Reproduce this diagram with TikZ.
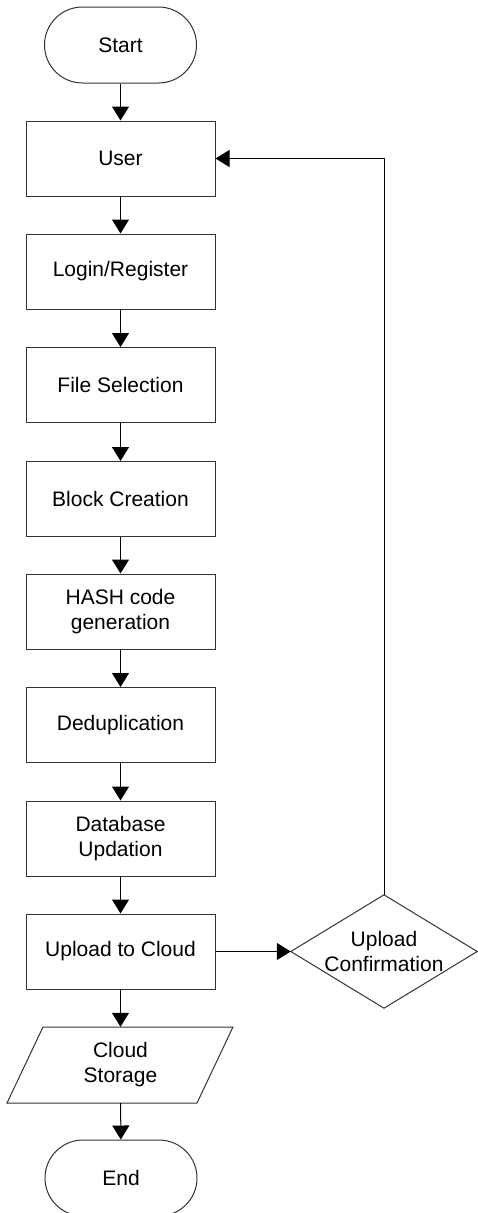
\documentclass[tikz,border=0pt]{standalone}
\usepackage{fontspec}
\setmainfont{Liberation Sans}
\usetikzlibrary{arrows.meta}
\begin{document}
\begin{tikzpicture}[x=1pt,y=-1pt,
  every node/.style={font=\fontsize{21}{25}\selectfont, align=center, inner sep=0pt},
  procbox/.style={draw=black!80, line width=1pt, minimum width=189pt, minimum height=75pt},
  termbox/.style={draw=black!80, line width=1pt, minimum width=152pt, minimum height=76pt, rounded corners=38pt},
  plain/.style={minimum width=#1, minimum height=76pt},
  shapeline/.style={draw=black!80, line width=1pt},
  flow/.style={draw=black, line width=1pt, -{Triangle[length=14pt,width=17pt]}}]
\useasboundingbox (0,0) rectangle (477,1213);
\node[termbox] (start) at (120.5,45) {Start};
\node[procbox] (user) at (120.5,158.5) {User};
\node[procbox] (login) at (120.5,271.5) {Login/Register};
\node[procbox] (file) at (120.5,385) {File Selection};
\node[procbox] (block) at (120.5,499) {Block Creation};
\node[procbox] (hash) at (120.5,611.5) {HASH code\\generation};
\node[procbox] (dedup) at (120.5,725) {Deduplication};
\node[procbox] (db) at (120.5,838.5) {Database\\Updation};
\node[procbox] (upload) at (120.5,951.5) {Upload to Cloud};
\node[plain=190pt] (cloud) at (120.5,1065) {Cloud\\Storage};
\draw[shapeline] (43,1027) -- (233,1027) -- (197,1103) -- (7,1103) -- cycle;
\node[termbox] (end) at (121,1178) {End};
\node[minimum width=186pt, minimum height=113pt] (conf) at (384,951.5) {Upload\\Confirmation};
\draw[shapeline] (conf.north) -- (conf.east) -- (conf.south) -- (conf.west) -- cycle;
\draw[flow] (start) -- (user);
\draw[flow] (user) -- (login);
\draw[flow] (login) -- (file);
\draw[flow] (file) -- (block);
\draw[flow] (block) -- (hash);
\draw[flow] (hash) -- (dedup);
\draw[flow] (dedup) -- (db);
\draw[flow] (db) -- (upload);
\draw[flow] (upload) -- (cloud);
\draw[flow] (cloud) -- (end);
\draw[flow] (upload.east) -- (conf.west);
\draw[flow] (conf.north) |- (user.east);
\end{tikzpicture}
\end{document}
